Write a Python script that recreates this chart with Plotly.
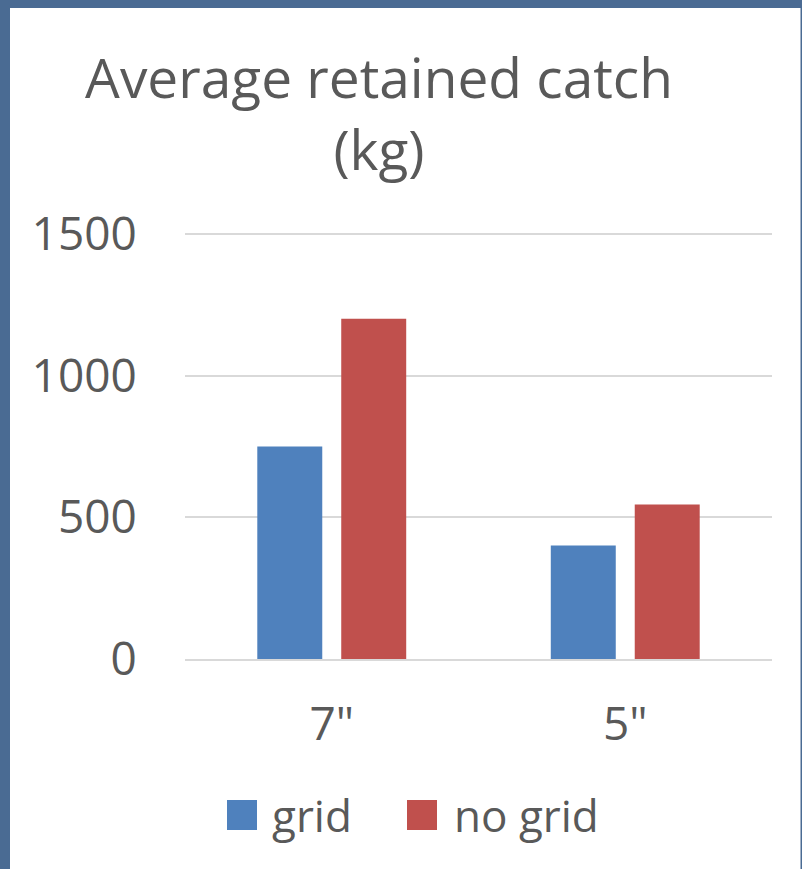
import plotly.graph_objects as go

categories = ['7"', '5"']
series_names = ["grid", "no grid"]
grid_values = [750, 400]
nogrid_values = [1200, 545]
y_tick_values = [0, 500, 1000, 1500]
y_tick_labels = ["0", "500", "1000", "1500"]

W, H = 802, 869
ML, MR, MT, MB = 185, 30, 231, 210
PW, PH = W - ML - MR, H - MT - MB
FONT = "Open Sans"
TXT = "#595959"
COLORS = ["#4f81bd", "#c0504d"]
BORDER = "#4a6b93"

def px_x(x):
    return (x - ML) / PW

def px_y(y):
    return 1 - (y - MT) / PH

fig = go.Figure()
for name, vals, col in zip(series_names, [grid_values, nogrid_values], COLORS):
    fig.add_trace(go.Bar(x=categories, y=vals, name=name, marker_color=col,
                         marker_line_width=0, showlegend=False))

shapes = []
# frame bands
shapes.append(dict(type="rect", xref="paper", yref="paper", x0=px_x(0), x1=px_x(10),
                   y0=px_y(H), y1=px_y(0), fillcolor=BORDER, line_width=0, layer="above"))
shapes.append(dict(type="rect", xref="paper", yref="paper", x0=px_x(0), x1=px_x(W),
                   y0=px_y(8), y1=px_y(0), fillcolor=BORDER, line_width=0, layer="above"))
shapes.append(dict(type="rect", xref="paper", yref="paper", x0=px_x(800.5), x1=px_x(W),
                   y0=px_y(H), y1=px_y(0), fillcolor=BORDER, line_width=0, layer="above"))

# custom legend
annotations = []
leg_items = [(227, 270), (407, 452)]
for (sx, tx), name, col in zip(leg_items, series_names, COLORS):
    shapes.append(dict(type="rect", xref="paper", yref="paper", x0=px_x(sx), x1=px_x(sx + 30),
                       y0=px_y(830), y1=px_y(800), fillcolor=col, line_width=0))
    annotations.append(dict(text=name, xref="paper", yref="paper", x=px_x(tx), y=px_y(815),
                            xanchor="left", yanchor="middle", showarrow=False,
                            font=dict(family=FONT, size=44, color=TXT)))

fig.update_layout(
    width=W, height=H,
    margin=dict(l=ML, r=MR, t=MT, b=MB),
    paper_bgcolor="white", plot_bgcolor="white",
    title=dict(text="Average retained catch<br>(kg)", x=379 / W, xref="container", xanchor="center",
               y=1 - 98 / H, yref="container", yanchor="top",
               font=dict(family=FONT, size=55, color=TXT)),
    barmode="group", bargap=0.428, bargroupgap=0.226,
    shapes=shapes, annotations=annotations,
    showlegend=False,
)
fig.update_yaxes(range=[0, 1510], tickvals=y_tick_values, ticktext=y_tick_labels,
                 showgrid=True, gridcolor="#d9d9d9", gridwidth=1.5, zeroline=False,
                 showline=False, ticks="outside", ticklen=38, tickcolor="rgba(0,0,0,0)",
                 tickfont=dict(family=FONT, size=46, color=TXT))
fig.update_xaxes(showline=True, linecolor="#d9d9d9", linewidth=1.5, ticks="outside", ticklen=24,
                 tickcolor="rgba(0,0,0,0)", tickfont=dict(family=FONT, size=46, color=TXT))

fig.write_html("out.html", config={"displayModeBar": False},
               post_script="document.body.style.margin='0';document.body.style.padding='0';")
